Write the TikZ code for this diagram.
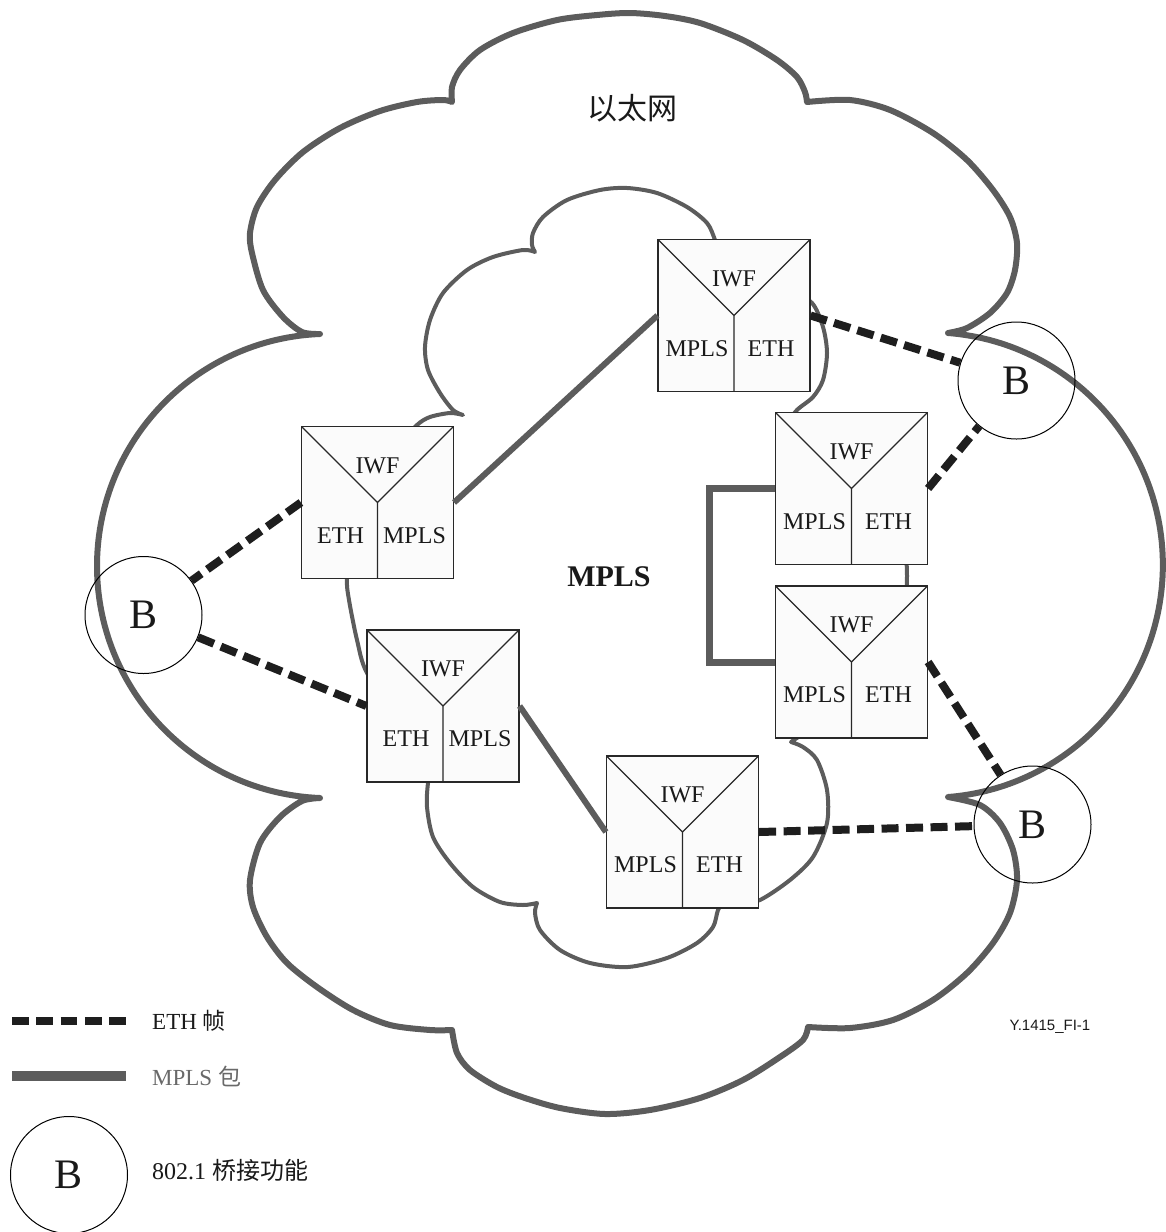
\documentclass[tikz,border=0pt]{standalone}
\usepackage{fontspec}
\setmainfont{Liberation Serif}
\newfontfamily\cjkfont{Noto Sans CJK SC}
\newfontfamily\labsans{Liberation Sans}
\usetikzlibrary{calc}
\definecolor{cloudgray}{RGB}{92,92,92}
\definecolor{linkgray}{RGB}{92,92,92}
\definecolor{ethblack}{RGB}{30,30,30}
\definecolor{boxline}{RGB}{40,40,40}
\definecolor{boxfill}{RGB}{251,251,251}
\definecolor{legendgray}{RGB}{105,105,105}
\definecolor{txtblack}{RGB}{25,25,25}
\tikzset{
 iwfbox/.style={rectangle, draw=boxline, line width=1.2pt, fill=boxfill,
   minimum width=152pt, minimum height=152pt, inner sep=0pt,
   path picture={\draw[boxline, line width=1.2pt]
     (path picture bounding box.north west) -- (path picture bounding box.center)
     -- (path picture bounding box.north east)
     (path picture bounding box.center) -- (path picture bounding box.south);}},
 boxtxt/.style={inner sep=0pt, text=txtblack, font=\fontsize{24}{28}\selectfont},
 bridge/.style={circle, draw=black, line width=1pt, minimum size=117pt, inner sep=0pt,
   text=txtblack, font=\fontsize{42}{46}\selectfont},
 cloudout/.style={draw=cloudgray, line width=6pt, line join=round, line cap=round},
 cloudin/.style={draw=cloudgray, line width=4pt, line join=round, line cap=round},
 mplsline/.style={draw=linkgray, line width=6pt},
 ethline/.style={draw=ethblack, line width=8pt, dash pattern=on 17pt off 7.5pt},
 legendtxt/.style={anchor=west, inner sep=0pt, text=txtblack, font=\fontsize{23}{27}\selectfont},
}
\newcommand\iwfunit[4]{%
  \node[iwfbox] (#1) at (#2) {};
  \node[boxtxt] (#1-i) at ($(#1.center)+(0,37)$) {IWF};
  \node[boxtxt] (#1-l) at ($(#1.center)+(-37,-33)$) {#3};
  \node[boxtxt] (#1-r) at ($(#1.center)+(37,-33)$) {#4};}

\begin{document}
\begin{tikzpicture}[x=1pt,y=1pt]
\useasboundingbox (0,0) rectangle (1166,-1232);

% outer cloud
\draw[cloudout]
  plot[smooth] coordinates {(452,-102) (452,-87) (460,-70) (480,-50) (513,-33) (557,-20) (597,-15) (630,-13) (665,-16) (700,-23) (743,-40) (777,-60) (797,-77) (805,-92) (807,-102)}
  -- plot[smooth] coordinates {(807,-102) (850,-100) (890,-110) (933,-133) (967,-160) (993,-190) (1010,-217) (1017,-243) (1015,-270) (1007,-293) (990,-313) (967,-328) (948,-333)}
  arc[start angle=85.6, end angle=-85.6, radius=232.7]
  -- plot[smooth] coordinates {(948,-797) (980,-805) (1000,-823) (1013,-850) (1017,-880) (1010,-913) (993,-943) (967,-973) (933,-1000) (893,-1020) (850,-1028) (808,-1027)}
  -- plot[smooth] coordinates {(808,-1027) (803,-1040) (780,-1057) (743,-1080) (700,-1098) (650,-1110) (605,-1114) (560,-1108) (525,-1098) (497,-1087) (470,-1070) (457,-1053) (452,-1030)}
  -- plot[smooth] coordinates {(452,-1030) (430,-1030) (390,-1025) (353,-1010) (317,-987) (287,-963) (267,-937) (253,-907) (250,-880) (260,-843) (280,-817) (302,-801) (320,-798)}
  arc[start angle=267.73, end angle=92.27, radius=232.2]
  -- plot[smooth] coordinates {(320,-334) (302,-332) (283,-317) (263,-290) (252,-253) (250,-233) (257,-207) (275,-180) (303,-152) (340,-128) (380,-111) (417,-102) (443,-100) (452,-102)}
  -- cycle;

% inner cloud
\draw[cloudin]
  plot[smooth] coordinates {(535,-252) (532,-245) (533,-233) (543,-217) (567,-200) (600,-190) (627,-188) (657,-193) (687,-207) (707,-223) (715,-240) (722,-262) (740,-285) (760,-295)}
  -- plot[smooth] coordinates {(760,-295) (790,-293) (812,-303) (823,-327) (827,-353) (823,-380) (813,-397) (797,-410) (786,-425)}
  -- plot[smooth] coordinates {(786,-425) (850,-445) (895,-500) (907,-576) (895,-650) (850,-712) (810,-730) (791,-742)}
  -- plot[smooth] coordinates {(791,-742) (803,-747) (817,-760) (827,-790) (827,-823) (813,-857) (790,-880) (760,-900) (740,-903) (725,-898)}
  -- plot[smooth] coordinates {(725,-898) (718,-910) (713,-927) (697,-943) (667,-958) (628,-967) (590,-963) (560,-950) (540,-930) (535,-913) (537,-903)}
  -- plot[smooth] coordinates {(537,-903) (523,-905) (500,-902) (473,-887) (450,-863) (433,-837) (427,-807) (428,-783) (432,-765) (445,-750)}
  -- plot[smooth] coordinates {(445,-750) (400,-720) (367,-673) (357,-640) (349,-600) (347,-579) (352,-540) (375,-480) (400,-445) (417,-425) (430,-417) (450,-413) (463,-415)}
  -- plot[smooth] coordinates {(463,-415) (453,-410) (440,-393) (428,-370) (425,-347) (430,-320) (443,-293) (467,-270) (493,-257) (523,-250) (535,-252)}
  -- cycle;

% IWF units
\iwfunit{b1}{734,-315.5}{MPLS}{ETH}
\iwfunit{b2}{377.5,-502.5}{ETH}{MPLS}
\iwfunit{b3}{443,-706}{ETH}{MPLS}
\iwfunit{b4}{851.5,-488.5}{MPLS}{ETH}
\iwfunit{b5}{851.5,-662}{MPLS}{ETH}
\iwfunit{b6}{682.5,-832}{MPLS}{ETH}

% bridges
\node[bridge] (B1) at (1016.5,-380.5) {B};
\node[bridge] (B2) at (143.5,-615) {B};
\node[bridge] (B3) at (1032.5,-824.5) {B};

% MPLS links
\draw[mplsline] (b2.east) -- (b1.west);
\draw[mplsline] (b3.east) -- (b6.west);
\draw[mplsline, line width=7pt, line join=miter] (b4.west) -- ++(-65,0) |- (b5.west);

% ETH links
\draw[ethline] (b1.east) -- (B1);
\draw[ethline] (b4.east) -- (B1);
\draw[ethline] (b2.west) -- (B2);
\draw[ethline] (B2) -- (b3.west);
\draw[ethline] (b5.east) -- (B3);
\draw[ethline] (b6.east) -- (B3);

% titles
\node[inner sep=0pt, text=txtblack, font=\cjkfont\fontsize{30}{34}\selectfont] (eth) at (632,-108) {以太网};
\node[inner sep=0pt, text=txtblack, font=\bfseries\fontsize{30}{34}\selectfont] (mpls) at (609,-577) {MPLS};
\node[inner sep=0pt, text=txtblack, font=\labsans\fontsize{15}{18}\selectfont] (fig) at (1050,-1027) {Y.1415\_FI-1};

% legend
\coordinate (l1a) at (12,-1021);
\coordinate (l1b) at (126,-1021);
\coordinate (l2a) at (12,-1076);
\coordinate (l2b) at (126,-1076);
\draw[ethline, dash pattern=on 16.7pt off 7.6pt] (l1a) -- (l1b);
\draw[mplsline, line width=10pt] (l2a) -- (l2b);
\node[legendtxt] (t1) at (152,-1021) {ETH {\cjkfont 帧}};
\node[legendtxt, text=legendgray] (t2) at (152,-1076) {MPLS {\cjkfont 包}};
\node[bridge] (BL) at (69,-1175) {B};
\node[legendtxt, font=\fontsize{24}{28}\selectfont] (t3) at (152,-1170) {802.1 {\cjkfont 桥接功能}};
\end{tikzpicture}
\end{document}
